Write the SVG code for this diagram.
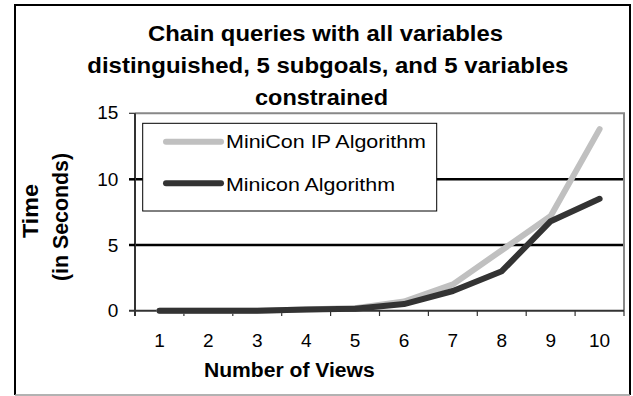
<svg xmlns="http://www.w3.org/2000/svg" width="633" height="396" viewBox="0 0 633 396">
<style>
text{font-family:"Liberation Sans",Arial,sans-serif;fill:#000}
.t{font-size:22px;font-weight:bold}
.ax{font-size:20px;font-weight:bold}
.n{font-size:19px}
.lg{font-size:19px}
.grid{stroke:#000;stroke-width:2.5}
.tick{stroke:#333;stroke-width:1.2}
.s1{fill:none;stroke:#c0c0c0;stroke-width:6;stroke-linecap:round;stroke-linejoin:round}
.s2{fill:none;stroke:#333;stroke-width:6;stroke-linecap:round;stroke-linejoin:round}
</style>
<rect x="0" y="0" width="633" height="396" fill="#fff"/>
<g id="frame">
<path d="M15,395 V5 H630 V395" fill="none" stroke="#000" stroke-width="2"/>
<line x1="15" y1="395" x2="630" y2="395" stroke="#999" stroke-width="1.5"/>
</g>
<g id="title">
<text class="t" x="148" y="40.7" textLength="355" lengthAdjust="spacingAndGlyphs">Chain queries with all variables</text>
<text class="t" x="87.3" y="72.8" textLength="481" lengthAdjust="spacingAndGlyphs">distinguished, 5 subgoals, and 5 variables</text>
<text class="t" x="255" y="105" textLength="133" lengthAdjust="spacingAndGlyphs">constrained</text>
</g>
<g id="plot-area">
<line class="grid" x1="135" y1="179.3" x2="624" y2="179.3"/>
<line class="grid" x1="135" y1="245" x2="624" y2="245"/>
<path d="M135,113.3 H624 V310.7" fill="none" stroke="#888" stroke-width="2"/>
<path d="M135,113.3 V316 M129,310.7 H624" fill="none" stroke="#333" stroke-width="2"/>
<line class="tick" x1="129" y1="113.3" x2="135" y2="113.3"/>
<line class="grid" x1="129" y1="179.3" x2="135" y2="179.3"/>
<line class="grid" x1="129" y1="245" x2="135" y2="245"/>
<g class="tick">
<line x1="183.9" y1="310.7" x2="183.9" y2="316"/>
<line x1="232.8" y1="310.7" x2="232.8" y2="316"/>
<line x1="281.7" y1="310.7" x2="281.7" y2="316"/>
<line x1="330.6" y1="310.7" x2="330.6" y2="316"/>
<line x1="379.5" y1="310.7" x2="379.5" y2="316"/>
<line x1="428.4" y1="310.7" x2="428.4" y2="316"/>
<line x1="477.3" y1="310.7" x2="477.3" y2="316"/>
<line x1="526.2" y1="310.7" x2="526.2" y2="316"/>
<line x1="575.1" y1="310.7" x2="575.1" y2="316"/>
<line x1="624" y1="310.7" x2="624" y2="316"/>
</g>
</g>
<g id="y-labels">
<text class="n" x="118.3" y="119.3" text-anchor="end">15</text>
<text class="n" x="118.3" y="186" text-anchor="end">10</text>
<text class="n" x="118.3" y="251.7" text-anchor="end">5</text>
<text class="n" x="118.3" y="317.3" text-anchor="end">0</text>
</g>
<g id="x-labels">
<text class="n" x="159.5" y="347" text-anchor="middle">1</text>
<text class="n" x="208.4" y="347" text-anchor="middle">2</text>
<text class="n" x="257.3" y="347" text-anchor="middle">3</text>
<text class="n" x="306.2" y="347" text-anchor="middle">4</text>
<text class="n" x="355.1" y="347" text-anchor="middle">5</text>
<text class="n" x="404" y="347" text-anchor="middle">6</text>
<text class="n" x="452.9" y="347" text-anchor="middle">7</text>
<text class="n" x="501.8" y="347" text-anchor="middle">8</text>
<text class="n" x="550.7" y="347" text-anchor="middle">9</text>
<text class="n" x="599.6" y="347" text-anchor="middle">10</text>
</g>
<g id="axis-titles">
<text class="ax" x="204" y="377.3" textLength="170.7" lengthAdjust="spacingAndGlyphs">Number of Views</text>
<text class="t" transform="translate(38.3,211) rotate(-90)" text-anchor="middle" textLength="54" lengthAdjust="spacingAndGlyphs">Time</text>
<text class="t" transform="translate(68,217) rotate(-90)" text-anchor="middle" textLength="128" lengthAdjust="spacingAndGlyphs">(in Seconds)</text>
</g>
<g id="series">
<polyline id="minicon-ip" class="s1" points="159.5,310.7 208.4,310.7 257.3,310.7 306.2,309.4 355.1,308.1 404,301.5 452.9,284.4 501.8,250.2 550.7,216 599.6,129.1"/>
<polyline id="minicon" class="s2" points="159.5,310.7 208.4,310.7 257.3,310.7 306.2,309.4 355.1,308.7 404,304.1 452.9,291 501.8,271.2 550.7,221.2 599.6,198.8"/>
</g>
<g id="legend">
<rect x="142.7" y="123.3" width="294" height="87.7" fill="#fff" stroke="#000" stroke-width="1"/>
<line class="s1" x1="166" y1="141.7" x2="221" y2="141.7"/>
<line class="s2" x1="166" y1="183.3" x2="221" y2="183.3"/>
<text class="lg" x="226" y="148.3" textLength="200" lengthAdjust="spacingAndGlyphs">MiniCon IP Algorithm</text>
<text class="lg" x="226" y="190.7" textLength="169" lengthAdjust="spacingAndGlyphs">Minicon Algorithm</text>
</g>
</svg>
